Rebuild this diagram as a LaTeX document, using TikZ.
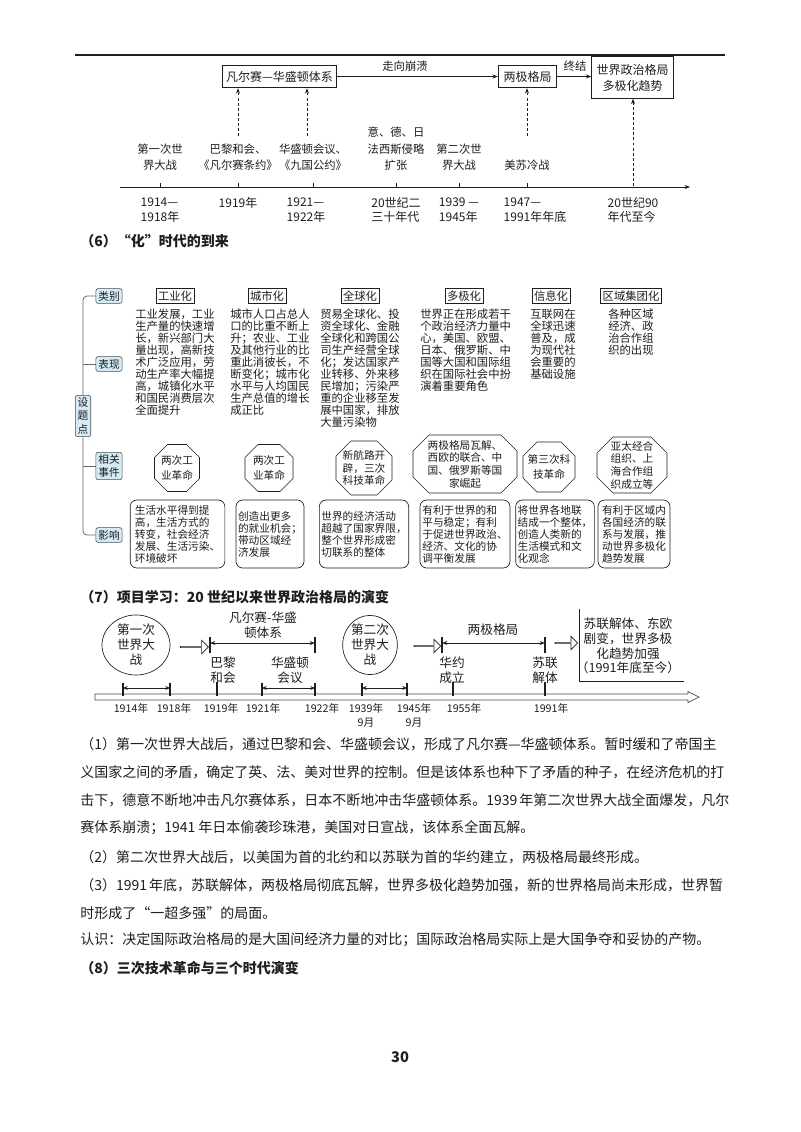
\documentclass[tikz,border=0pt]{standalone}
\usepackage{fontspec}
\setmainfont{Noto Sans CJK SC}
\usetikzlibrary{arrows.meta,shapes.geometric,shapes.arrows}
\XeTeXlinebreaklocale "zh"
\XeTeXlinebreakskip=0pt plus 2pt
\definecolor{lblue}{RGB}{212,234,244}
\definecolor{ink}{RGB}{30,30,30}
\newcommand{\myfs}[2]{\fontsize{#1}{#2}\selectfont}
\newcommand{\jline}[1]{\makebox[480pt][s]{#1}}
% octagon: name, cx, cy, w, h, chamfer, text, baselineskip
\newcommand{\octo}[8]{%
  \draw[line width=0.5pt,ink] ({#2-#4/2+#6},{#3-#5/2}) -- ({#2+#4/2-#6},{#3-#5/2}) -- ({#2+#4/2},{#3-#5/2+#6}) -- ({#2+#4/2},{#3+#5/2-#6}) -- ({#2+#4/2-#6},{#3+#5/2}) -- ({#2-#4/2+#6},{#3+#5/2}) -- ({#2-#4/2},{#3+#5/2-#6}) -- ({#2-#4/2},{#3-#5/2+#6}) -- cycle;
  \node[align=center,inner sep=0,font=\myfs{8}{#8}] (#1) at (#2,#3) {#7};}
\begin{document}
\begin{tikzpicture}[x=0.75pt,y=-0.75pt,
  every node/.style={text=ink},
  tbox/.style={draw=ink,line width=0.6pt,inner sep=2pt,font=\myfs{9}{11}},
  small/.style={inner sep=0,font=\myfs{8.5}{10}},
  ev/.style={align=center,inner sep=0,font=\myfs{8.5}{12.3}},
  dt/.style={align=left,inner sep=0,font=\myfs{9}{11}},
  arr/.style={-{Stealth[length=4pt,width=3pt]},line width=0.5pt,ink},
  darr/.style={arr,dash pattern=on 2.2pt off 1.6pt},
  lb/.style={draw=black!70,fill=lblue,rounded corners=1.5pt,inner sep=1.8pt,font=\myfs{8}{9.5},align=center},
  tree/.style={draw=black!60,line width=0.6pt,rounded corners=3pt},
  hd/.style={draw=ink,line width=0.5pt,inner sep=1.5pt,font=\myfs{8.5}{10}},
  col/.style={anchor=north west,align=left,inner sep=0,font=\myfs{8.5}{9}},
  rbox/.style={draw=ink,line width=0.5pt,rounded corners=5pt,align=left,inner sep=1.5pt,font=\myfs{8}{9},minimum height=51pt},
  ell/.style={draw=ink,line width=0.5pt,ellipse,align=center,inner sep=0,font=\myfs{9.5}{11.3}},
  harr/.style={single arrow,draw=ink,line width=0.5pt,single arrow head extend=2.5pt,minimum width=10pt,inner sep=0,shape border rotate=0},
  lab/.style={align=center,inner sep=0,font=\myfs{9.5}{11.5}},
  yr/.style={align=center,inner sep=0,font=\myfs{8}{10.5}},
  para/.style={anchor=west,inner sep=0,font=\myfs{10.5}{12}},
  ttl/.style={anchor=west,inner sep=0,font=\myfs{10.5}{12}\bfseries}]
\useasboundingbox (0,0) rectangle (800,1132);
\fill[white] (0,0) rectangle (800,1132);

% ---------- top timeline ----------
\draw[ink,line width=0.8pt] (75,55) -- (725,55);
\node[tbox,minimum width=86pt,minimum height=17pt] (A) at (279.5,76.5) {凡尔赛—华盛顿体系};
\node[tbox,minimum width=44pt,minimum height=17pt] (B) at (527.5,76.5) {两极格局};
\node[tbox,line width=0.9pt,minimum width=61pt,minimum height=31pt,align=center,font=\myfs{9}{12}] (C) at (632.5,77.5) {世界政治格局\\多极化趋势};
\draw[arr] (A.east) -- (B.west);
\node[small] (t1) at (405,66) {走向崩溃};
\draw[arr] (B.east) -- (B.east -| C.west);
\node[small] (t2) at (575,66) {终结};

\node[ev] (e1) at (160,157) {第一次世\\界大战};
\node[ev] (e2) at (238,157) {巴黎和会、\\《凡尔赛条约》};
\node[ev] (e3) at (313,157) {华盛顿会议、\\《九国公约》};
\node[ev] (e4) at (396,149) {意、德、日\\法西斯侵略\\扩张};
\node[ev] (e5) at (459,157) {第二次世\\界大战};
\node[ev] (e6) at (527,165) {美苏冷战};

\coordinate (ax0) at (120,187);
\coordinate (ax1) at (690,187);
\draw[arr] (ax0) -- (ax1);
\foreach \x in {160,238,313,396,459,527}{\draw[ink,line width=0.5pt] (\x,183) -- (\x,187);}

\node[dt] (d1) at (160,210) {1914—\\1918年};
\node[dt] (d2) at (238,203) {1919年};
\node[dt] (d3) at (306,210) {1921—\\1922年};
\node[dt] (d4) at (396,210) {20世纪二\\三十年代};
\node[dt] (d5) at (459,210) {1939 —\\1945年};
\node[dt] (d6) at (535,210) {1947—\\1991年年底};
\node[dt] (d7) at (633,210) {20世纪90\\年代至今};

\coordinate (p1) at (238,136);
\coordinate (p2) at (307,136);
\coordinate (p3) at (527,136);
\coordinate (p4) at (633,186);
\draw[darr] (p1) -- (p1 |- A.south);
\draw[darr] (p2) -- (p2 |- A.south);
\draw[darr] (p3) -- (p3 |- B.south);
\draw[darr] (p4) -- (p4 |- C.south);

% ---------- section 6 ----------
\node[ttl] (s6) at (80,241) {（6）“化”时代的到来};

\node[lb] (lb1) at (109,296) {类别};
\node[lb] (lb2) at (109,364) {表现};
\node[lb] (lb3) at (109,466) {相关\\事件};
\node[lb] (lb4) at (109,535) {影响};
\draw[tree] (lb1.west) -| (83,400);
\draw[tree] (lb4.west) -| (83,430);
\draw[tree] (lb2.west) -- (83,364);
\draw[tree] (lb3.west) -- (83,466);
\node[lb,font=\myfs{8}{10}] (sd) at (83,416) {设\\题\\点};

\node[hd] (h1) at (175,296) {工业化};
\node[hd] (h2) at (267,296) {城市化};
\node[hd] (h3) at (360,296) {全球化};
\node[hd] (h4) at (464,296) {多极化};
\node[hd] (h5) at (551,296) {信息化};
\node[hd] (h6) at (631,296) {区域集团化};

\node[col] (c1) at (135,309) {工业发展，工业\\生产量的快速增\\长，新兴部门大\\量出现，高新技\\术广泛应用，劳\\动生产率大幅提\\高，城镇化水平\\和国民消费层次\\全面提升};
\node[col] (c2) at (230,309) {城市人口占总人\\口的比重不断上\\升；农业、工业\\及其他行业的比\\重此消彼长，不\\断变化；城市化\\水平与人均国民\\生产总值的增长\\成正比};
\node[col] (c3) at (320,309) {贸易全球化、投\\资全球化、金融\\全球化和跨国公\\司生产经营全球\\化；发达国家产\\业转移、外来移\\民增加；污染严\\重的企业移至发\\展中国家，排放\\大量污染物};
\node[col] (c4) at (420,309) {世界正在形成若干\\个政治经济力量中\\心，美国、欧盟、\\日本、俄罗斯、中\\国等大国和国际组\\织在国际社会中扮\\演着重要角色};
\node[col] (c5) at (530,309) {互联网在\\全球迅速\\普及，成\\为现代社\\会重要的\\基础设施};
\node[col] (c6) at (608,309) {各种区域\\经济、政\\治合作组\\织的出现};

\octo{o1}{177}{468}{45}{47}{13}{两次工\\业革命}{11};
\octo{o2}{269}{468}{48}{47}{13}{两次工\\业革命}{11};
\octo{o3}{364}{468}{56}{54}{15}{新航路开\\辟，三次\\科技革命}{9.5};
\octo{o4}{465}{464}{104}{58}{16}{两极格局瓦解、\\西欧的联合、中\\国、俄罗斯等国\\家崛起}{9.5};
\octo{o5}{549}{467}{52}{50}{14}{第三次科\\技革命}{11};
\octo{o6}{632}{465}{70}{56}{16}{亚太经合\\组织、上\\海合作组\\织成立等}{9.5};

\node[rbox,minimum width=71pt] (r1) at (177.5,534) {生活水平得到提\\高，生活方式的\\转变，社会经济\\发展、生活污染、\\环境破坏};
\node[rbox,minimum width=50pt] (r2) at (270,534) {创造出更多\\的就业机会；\\带动区域经\\济发展};
\node[rbox,minimum width=66pt] (r3) at (364,534) {世界的经济活动\\超越了国家界限，\\整个世界形成密\\切联系的整体};
\node[rbox,minimum width=67.5pt] (r4) at (465,534) {有利于世界的和\\平与稳定；有利\\于促进世界政治、\\经济、文化的协\\调平衡发展};
\node[rbox,minimum width=57pt] (r5) at (555,534) {将世界各地联\\结成一个整体，\\创造人类新的\\生活模式和文\\化观念};
\node[rbox,minimum width=54pt] (r6) at (634,534) {有利于区域内\\各国经济的联\\系与发展，推\\动世界多极化\\趋势发展};

% ---------- section 7 ----------
\node[ttl] (s7) at (80,597) {（7）项目学习：20 世纪以来世界政治格局的演变};

\node[ell,minimum width=51pt,minimum height=45pt] (E1) at (136,645) {第一次\\世界大\\战};
\node[ell,minimum width=41pt,minimum height=38pt] (E2) at (370,645) {第二次\\世界大\\战};
\node[harr,minimum height=21pt] (ha1) at (194,647) {};
\node[harr,minimum height=20pt] (ha2) at (427,646) {};
\node[harr,minimum height=17pt] (ha3) at (566,643) {};

% upper spans
\coordinate (u1a) at (210,643); \coordinate (u1b) at (315,643);
\coordinate (u2a) at (442,643); \coordinate (u2b) at (545,643);
\draw[line width=0.7pt,ink,{Stealth[length=4pt,width=3pt]}-{Stealth[length=4pt,width=3pt]}] (u1a) -- (u1b);
\draw[line width=0.7pt,ink,{Stealth[length=4pt,width=3pt]}-{Stealth[length=4pt,width=3pt]}] (u2a) -- (u2b);
\foreach \x in {210,315,442,545}{\draw[ink,line width=1pt] (\x,637) -- (\x,653);}

\node[lab] (L1) at (263,625) {凡尔赛-华盛\\顿体系};
\node[lab] (L2) at (223,670) {巴黎\\和会};
\node[lab] (L3) at (290,670) {华盛顿\\会议};
\node[lab] (L4) at (493,630) {两极格局};
\node[lab] (L5) at (452,670) {华约\\成立};
\node[lab] (L6) at (545,670) {苏联\\解体};
\node[lab,font=\myfs{9.5}{11}] (L7) at (628,646) {苏联解体、东欧\\剧变，世界多极\\化趋势加强\\（1991年底至今）};
\draw[ink,line width=0.5pt] (579,609) -- (579,681) -- (684,681);

% lower axis
\draw[black!70,line width=0.5pt,fill=white] (95,694) -- (688,694) -- (688,691.5) -- (699,697) -- (688,702.5) -- (688,700) -- (95,700) -- cycle;
\foreach \a/\b in {123/170,262/315,362/407}{
  \draw[line width=0.7pt,ink,{Stealth[length=3.5pt,width=3pt]}-{Stealth[length=3.5pt,width=3pt]}] (\a,688) -- (\b,688);
  \draw[ink,line width=1pt] (\a,683) -- (\a,696);
  \draw[ink,line width=1pt] (\b,683) -- (\b,696);}
\foreach \x in {217,453,545}{\draw[ink,line width=1.3pt] (\x,682) -- (\x,696);}

\node[yr] (y1) at (131,708) {1914年};
\node[yr] (y2) at (174,708) {1918年};
\node[yr] (y3) at (221,708) {1919年};
\node[yr] (y4) at (263,708) {1921年};
\node[yr] (y5) at (322,708) {1922年};
\node[yr] (y6) at (366,715) {1939年\\9月};
\node[yr] (y7) at (414,715) {1945年\\9月};
\node[yr] (y8) at (464,708) {1955年};
\node[yr] (y9) at (551,708) {1991年};

% ---------- paragraphs ----------
\node[para] (l1) at (80,744) {\jline{（1）第一次世界大战后，通过巴黎和会、华盛顿会议，形成了凡尔赛—华盛顿体系。暂时缓和了帝国主}};
\node[para] (l2) at (80,772) {\jline{义国家之间的矛盾，确定了英、法、美对世界的控制。但是该体系也种下了矛盾的种子，在经济危机的打}};
\node[para] (l3) at (80,800) {\jline{击下，德意不断地冲击凡尔赛体系，日本不断地冲击华盛顿体系。1939 年第二次世界大战全面爆发，凡尔}};
\node[para] (l4) at (80,828) {赛体系崩溃；1941 年日本偷袭珍珠港，美国对日宣战，该体系全面瓦解。};
\node[para] (l5) at (80,857) {（2）第二次世界大战后，以美国为首的北约和以苏联为首的华约建立，两极格局最终形成。};
\node[para] (l6) at (80,885) {\jline{（3）1991 年底，苏联解体，两极格局彻底瓦解，世界多极化趋势加强，新的世界格局尚未形成，世界暂}};
\node[para] (l7) at (80,913) {时形成了“一超多强”的局面。};
\node[para] (l8) at (80,940) {认识：决定国际政治格局的是大国间经济力量的对比；国际政治格局实际上是大国争夺和妥协的产物。};
\node[ttl] (s8) at (80,968) {（8）三次技术革命与三个时代演变};

\node[inner sep=0,font=\myfs{11}{12}\bfseries] (pg) at (400,1057) {30};
\end{tikzpicture}
\end{document}
